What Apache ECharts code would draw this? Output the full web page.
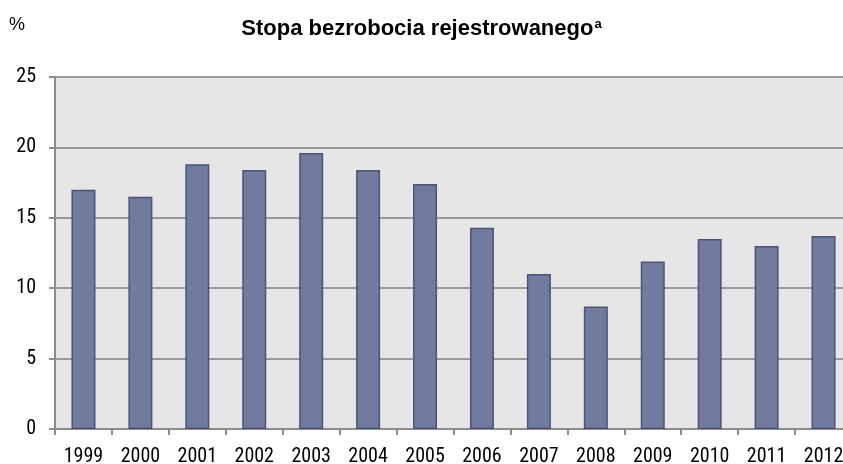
<!DOCTYPE html>
<html>
<head>
<meta charset="utf-8">
<script src="https://cdn.jsdelivr.net/npm/echarts@6/dist/echarts.min.js"></script>
<style>
  html, body { margin: 0; padding: 0; background: #fff; }
  #chart { width: 843px; height: 464px; }
</style>
</head>
<body>
<div id="chart"></div>
<script>
// lata i stopa bezrobocia (%)
const years = ['1999', '2000', '2001', '2002', '2003', '2004', '2005', '2006', '2007', '2008', '2009', '2010', '2011', '2012'];
const rate = [17.0, 16.5, 18.8, 18.4, 19.6, 18.4, 17.4, 14.3, 11.0, 8.7, 11.9, 13.5, 13.0, 13.7];
const yTicks = [0, 5, 10, 15, 20, 25];

const font = '"Roboto Condensed", "Liberation Sans", sans-serif';
const titleFont = '"Liberation Sans", Arial, sans-serif';

const chart = echarts.init(document.getElementById('chart'));
chart.setOption({
  animation: false,
  title: {
    text: 'Stopa bezrobocia rejestrowanego{sup|a}',
    left: 'center',
    top: 13,
    textStyle: {
      fontFamily: titleFont,
      fontSize: 22,
      fontWeight: 'bold',
      color: '#000',
      rich: {
        sup: { fontFamily: titleFont, fontSize: 13, fontWeight: 'bold', color: '#000', verticalAlign: 'top', padding: [0, 0, 7, 1] }
      }
    }
  },
  graphic: [{
    type: 'text',
    left: 9,
    top: 16,
    style: { text: '%', fontFamily: titleFont, fontSize: 18, fill: '#000' }
  }],
  grid: {
    left: 55,
    right: -9,
    top: 77,
    bottom: 35,
    outerBoundsMode: 'none',
    show: true,
    backgroundColor: '#e6e6e6',
    borderWidth: 0
  },
  xAxis: {
    type: 'category',
    data: years,
    axisLine: { lineStyle: { color: '#8c8c8c', width: 2 } },
    axisTick: { show: true, length: 6, lineStyle: { color: '#8c8c8c', width: 2 } },
    axisLabel: { fontFamily: font, fontSize: 20, color: '#000', margin: 18 },
    splitLine: { show: false }
  },
  yAxis: {
    type: 'value',
    min: yTicks[0],
    max: yTicks[yTicks.length - 1],
    interval: 5,
    axisLine: { show: true, lineStyle: { color: '#8c8c8c', width: 2 } },
    axisTick: { show: true, length: 6, lineStyle: { color: '#8c8c8c', width: 2 } },
    axisLabel: { fontFamily: font, fontSize: 20, color: '#000', margin: 19 },
    splitLine: { show: true, lineStyle: { color: '#999', width: 2 } }
  },
  series: [{
    type: 'bar',
    data: rate,
    barWidth: 24,
    itemStyle: { color: '#717ba0', borderColor: '#4b5476', borderWidth: 1.5 }
  }]
});
</script>
</body>
</html>
